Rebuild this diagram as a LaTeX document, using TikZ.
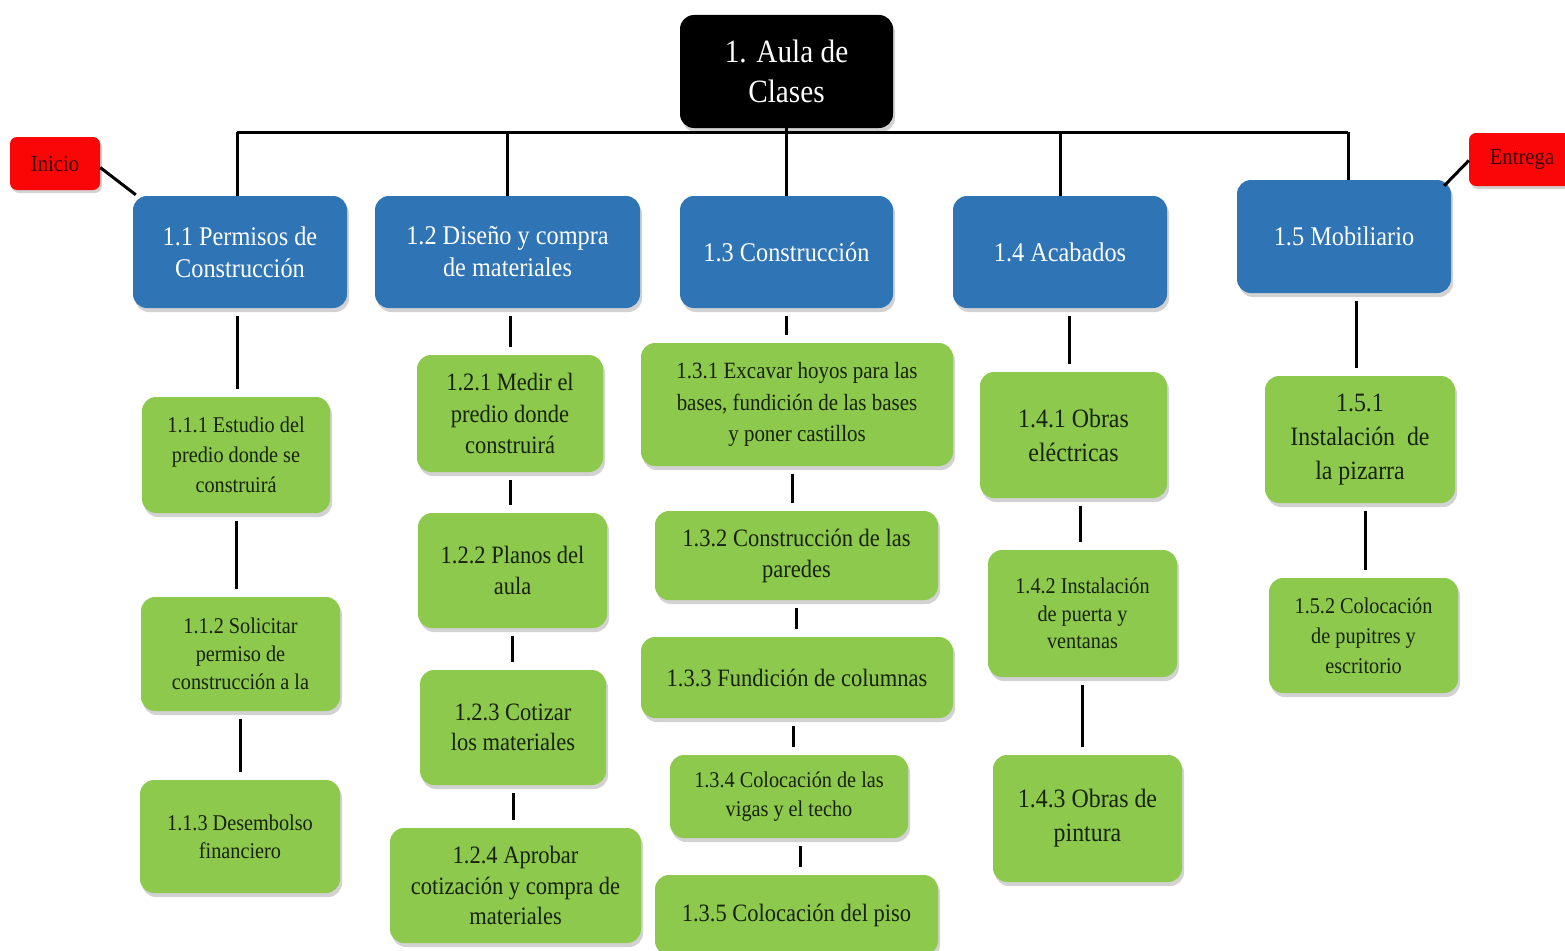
\documentclass[tikz,border=0pt]{standalone}
\usepackage{fontspec}
\setmainfont[FakeStretch=0.9]{Liberation Serif}
\usetikzlibrary{shadows}
\definecolor{wbsblue}{RGB}{47,116,181}
\definecolor{wbsgreen}{RGB}{141,201,76}
\definecolor{wbsred}{RGB}{250,6,6}
\definecolor{tasktext}{RGB}{24,34,10}
\definecolor{flagtext}{RGB}{60,0,0}
\tikzset{
  box/.style={rounded corners=14pt, align=center, inner sep=0pt,
    drop shadow={shadow xshift=2pt, shadow yshift=-4pt, opacity=0.25, fill=black!70}},
  rootbox/.style={box, fill=black, text=white, font=\fontsize{32.5}{40}\selectfont},
  lvlone/.style={box, fill=wbsblue, text=white, font=\fontsize{27}{32}\selectfont},
  task/.style={box, fill=wbsgreen, text=tasktext, font=\fontsize{22.5}{29}\selectfont},
  taskmid/.style={task, font=\fontsize{25}{30.5}\selectfont},
  taskbig/.style={task, font=\fontsize{26.5}{34}\selectfont},
  flag/.style={rounded corners=7pt, align=center, inner sep=0pt, fill=wbsred, text=flagtext,
    font=\fontsize{23}{26}\selectfont,
    drop shadow={shadow xshift=2pt, shadow yshift=-3pt, opacity=0.25, fill=black!70}},
  conn/.style={line width=3pt, black},
  vconn/.style={conn, shorten <=8pt, shorten >=8pt},
}
\begin{document}
\begin{tikzpicture}[x=1pt,y=-1pt]
\useasboundingbox (0,0) rectangle (1565,950);
\clip (0,0) rectangle (1565,950);
\fill[white] (0,0) rectangle (1565,950);

% root
\node[rootbox, minimum width=213pt, minimum height=113pt] (root) at (786.5,71.5) {1. Aula de\\Clases};

% level one
\node[lvlone, minimum width=214pt, minimum height=112pt] (p11) at (240,252) {1.1 Permisos de\\Construcción};
\node[lvlone, minimum width=265pt, minimum height=112pt] (p12) at (507.5,252) {1.2 Diseño y compra\\de materiales};
\node[lvlone, minimum width=213pt, minimum height=112pt] (p13) at (786.5,252) {1.3 Construcción};
\node[lvlone, minimum width=214pt, minimum height=112pt] (p14) at (1060,252) {1.4 Acabados};
\node[lvlone, minimum width=214pt, minimum height=113pt] (p15) at (1344,236.5) {1.5 Mobiliario};

% flags
\node[flag, minimum width=90pt, minimum height=53pt] (inicio) at (55,163.5) {Inicio};
\node[flag, minimum width=106pt, minimum height=53pt] (entrega) at (1522,159.5) {Entrega};

% column 1
\node[task, minimum width=188pt, minimum height=116pt, font=\fontsize{22.5}{30}\selectfont] (t111) at (236,455) {1.1.1 Estudio del\\predio donde se\\construirá};
\node[task, minimum width=199pt, minimum height=114pt, font=\fontsize{22.5}{28}\selectfont] (t112) at (240.5,654) {1.1.2 Solicitar\\permiso de\\construcción a la};
\node[task, minimum width=200pt, minimum height=113pt, font=\fontsize{22.5}{28}\selectfont] (t113) at (240,836.5) {1.1.3 Desembolso\\financiero};

% column 2
\node[taskmid, minimum width=186pt, minimum height=117pt, font=\fontsize{25}{31.5}\selectfont] (t121) at (510,413.5) {1.2.1 Medir el\\predio donde\\construirá};
\node[taskmid, minimum width=189pt, minimum height=115pt] (t122) at (512.5,570.5) {1.2.2 Planos del\\aula};
\node[taskmid, minimum width=186pt, minimum height=115pt] (t123) at (513,727.5) {1.2.3 Cotizar\\los materiales};
\node[taskmid, minimum width=251pt, minimum height=115pt] (t124) at (515.5,885.5) {1.2.4 Aprobar\\cotización y compra de\\materiales};

% column 3
\node[task, minimum width=312pt, minimum height=123pt, font=\fontsize{23.3}{31.5}\selectfont] (t131) at (797,404.5) {1.3.1 Excavar hoyos para las\\bases, fundición de las bases\\y poner castillos};
\node[taskmid, minimum width=283pt, minimum height=89pt, font=\fontsize{25}{31}\selectfont] (t132) at (796.5,555.5) {1.3.2 Construcción de las\\paredes};
\node[taskmid, minimum width=312pt, minimum height=81pt] (t133) at (797,677.5) {1.3.3 Fundición de columnas};
\node[task, minimum width=238pt, minimum height=83pt] (t134) at (789,796.5) {1.3.4 Colocación de las\\vigas y el techo};
\node[taskmid, minimum width=283pt, minimum height=80pt] (t135) at (796.5,915) {1.3.5 Colocación del piso};

% column 4
\node[taskbig, minimum width=187pt, minimum height=126pt] (t141) at (1073.5,435) {1.4.1 Obras\\eléctricas};
\node[task, minimum width=189pt, minimum height=127pt, font=\fontsize{22.5}{27.5}\selectfont] (t142) at (1082.5,613.5) {1.4.2 Instalación\\de puerta y\\ventanas};
\node[taskbig, minimum width=189pt, minimum height=127pt] (t143) at (1087.5,818.5) {1.4.3 Obras de\\pintura};

% column 5
\node[taskbig, minimum width=190pt, minimum height=127pt] (t151) at (1360,439.5) {1.5.1\\Instalación\ \ de\\la pizarra};
\node[task, minimum width=189pt, minimum height=115pt, font=\fontsize{22.5}{30}\selectfont] (t152) at (1363.5,635.5) {1.5.2 Colocación\\de pupitres y\\escritorio};

% bus
\coordinate (bus) at (786.5,132);
\draw[conn] (root.south) -- (root.south |- bus);
\draw[conn] ([xshift=-3pt]p11.north |- bus) -- ([xshift=4pt]p15.north |- bus);
\draw[conn] ([xshift=-3pt]p11.north) -- ([xshift=-3pt]p11.north |- bus);
\draw[conn] (p12.north) -- (p12.north |- bus);
\draw[conn] (p13.north) -- (p13.north |- bus);
\draw[conn] (p14.north) -- (p14.north |- bus);
\draw[conn] ([xshift=4pt]p15.north) -- ([xshift=4pt]p15.north |- bus);

% flag links
\draw[conn] ([yshift=-4pt]inicio.east) -- ([xshift=3pt,yshift=1pt]p11.north west);
\draw[conn] ([yshift=-1pt]entrega.west) -- ([xshift=-7pt,yshift=-6pt]p15.north east);

% vertical chains
\draw[vconn] ([xshift=-3pt]p11.south) -- ([xshift=-3pt]p11.south |- t111.north);
\draw[vconn] (t111.south) -- (t111.south |- t112.north);
\draw[vconn] (t112.south) -- (t112.south |- t113.north);

\draw[vconn] ([xshift=3pt]p12.south) -- ([xshift=3pt]p12.south |- t121.north);
\draw[vconn] (t121.south) -- (t121.south |- t122.north);
\draw[vconn] (t122.south) -- (t122.south |- t123.north);
\draw[vconn] (t123.south) -- (t123.south |- t124.north);

\draw[vconn] (p13.south) -- (p13.south |- t131.north);
\draw[vconn] ([xshift=-5pt]t131.south) -- ([xshift=-5pt]t131.south |- t132.north);
\draw[vconn] (t132.south) -- (t132.south |- t133.north);
\draw[vconn] ([xshift=-4pt]t133.south) -- ([xshift=-4pt]t133.south |- t134.north);
\draw[vconn] ([xshift=11pt]t134.south) -- ([xshift=11pt]t134.south |- t135.north);

\draw[vconn] ([xshift=9pt]p14.south) -- ([xshift=9pt]p14.south |- t141.north);
\draw[vconn] ([xshift=7pt]t141.south) -- ([xshift=7pt]t141.south |- t142.north);
\draw[vconn] (t142.south) -- (t142.south |- t143.north);

\draw[vconn] ([xshift=12pt]p15.south) -- ([xshift=12pt]p15.south |- t151.north);
\draw[vconn] ([xshift=5pt]t151.south) -- ([xshift=5pt]t151.south |- t152.north);
\end{tikzpicture}
\end{document}
